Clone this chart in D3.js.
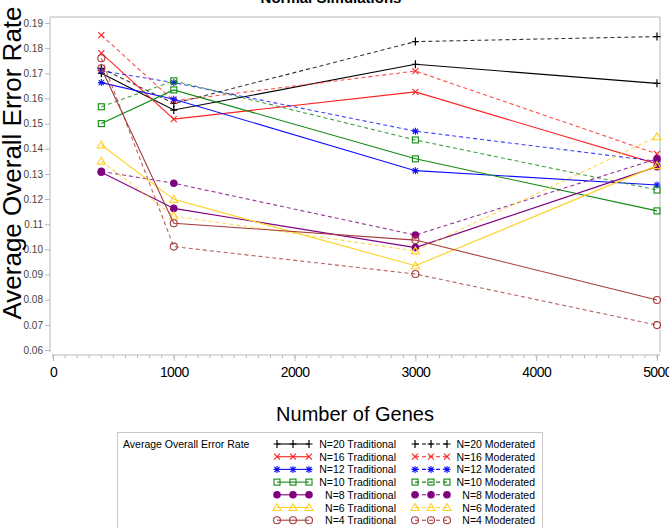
<!DOCTYPE html>
<html>
<head>
<meta charset="utf-8">
<script src="https://cdn.jsdelivr.net/npm/d3@7"></script>
<style>
  body { margin: 0; background: #fff; }
  svg { display: block; font-family: "Liberation Sans", Arial, sans-serif; }
</style>
</head>
<body>
<div id="chart"></div>
<script>
// Values
const genes = [400, 1000, 3000, 5000];

const n20Trad = [0.170, 0.1554, 0.1736, 0.166];
const n20Mod = [0.172, 0.158, 0.1826, 0.1846];
const n16Trad = [0.178, 0.1518, 0.1626, 0.134];
const n16Mod = [0.1852, 0.159, 0.1709, 0.138];
const n12Trad = [0.1663, 0.1597, 0.1313, 0.1256];
const n12Mod = [0.171, 0.1663, 0.147, 0.135];
const n10Trad = [0.150, 0.1634, 0.136, 0.1153];
const n10Mod = [0.1567, 0.167, 0.1435, 0.1236];
const n8Trad = [0.1307, 0.1163, 0.1007, 0.1329];
const n8Mod = [0.131, 0.1263, 0.1057, 0.136];
const n6Trad = [0.1415, 0.1199, 0.0935, 0.1333];
const n6Mod = [0.1351, 0.1133, 0.0994, 0.1448];
const n4Trad = [0.172, 0.1104, 0.1037, 0.0799];
const n4Mod = [0.176, 0.1011, 0.0902, 0.0699];

const seriesNames = ['N=20', 'N=16', 'N=12', 'N=10', 'N=8', 'N=6', 'N=4'];
const tradValues = [n20Trad, n16Trad, n12Trad, n10Trad, n8Trad, n6Trad, n4Trad];
const modValues = [n20Mod, n16Mod, n12Mod, n10Mod, n8Mod, n6Mod, n4Mod];
const colors = ['#000000', '#ff2020', '#1010ff', '#108a10', '#800080', '#ffd020', '#a83a3a'];
const shapes = ['plus', 'cross', 'star', 'square', 'dot', 'triangle', 'circle'];

const yTicks = d3.range(6, 20).map(d => d / 100);
const xTicks = [0, 1000, 2000, 3000, 4000, 5000];

const W = 669, H = 528;
const frame = { left: 50, right: 660, top: 17, bottom: 355 };

const svg = d3.select('#chart').append('svg')
  .attr('width', W)
  .attr('height', H);

const x = d3.scaleLinear().domain([0, 5000]).range([53, 657]);
const y = d3.scaleLinear().domain([0.06, 0.19]).range([350, 23]);

// Title, mostly cut off at the top
svg.append('text')
  .attr('x', 331)
  .attr('y', 3)
  .attr('text-anchor', 'middle')
  .style('font-size', '15px')
  .style('font-weight', 'bold')
  .text('Normal Simulations');

// frame
svg.append('path')
  .attr('d', `M${frame.left},${frame.bottom - 3}V${frame.top}H${frame.right}V${frame.bottom - 3}`)
  .attr('fill', 'none')
  .attr('stroke', '#b8b8b8');
svg.append('line')
  .attr('x1', 52).attr('x2', frame.right)
  .attr('y1', frame.bottom).attr('y2', frame.bottom)
  .attr('stroke', '#b8b8b8');

// y axis
const yAxis = svg.append('g')
  .attr('transform', `translate(${frame.left},0)`)
  .call(d3.axisLeft(y).tickValues(yTicks).tickFormat(d3.format('.2f')).tickSize(5).tickPadding(2));
yAxis.select('.domain').remove();
yAxis.selectAll('line').attr('stroke', '#b8b8b8');
yAxis.selectAll('text')
  .style('font-size', '10px')
  .style('font-family', '"Liberation Sans", Arial, sans-serif')
  .attr('fill', '#444');

// x axis minor ticks
svg.append('g')
  .selectAll('line')
  .data(d3.range(0, 5001, 100))
  .enter().append('line')
  .attr('x1', d => x(d)).attr('x2', d => x(d))
  .attr('y1', frame.bottom).attr('y2', frame.bottom + 3)
  .attr('stroke', '#b8b8b8');

const xAxis = svg.append('g')
  .attr('transform', `translate(0,${frame.bottom})`)
  .call(d3.axisBottom(x).tickValues(xTicks).tickFormat(d3.format('d')).tickSize(6).tickPadding(6));
xAxis.select('.domain').remove();
xAxis.selectAll('line').attr('stroke', '#b8b8b8');
xAxis.selectAll('text')
  .style('font-size', '14px')
  .style('letter-spacing', '-0.6px')
  .style('font-family', '"Liberation Sans", Arial, sans-serif')
  .attr('fill', '#000');

// axis titles
svg.append('text')
  .attr('x', (53 + 657) / 2)
  .attr('y', 421)
  .attr('text-anchor', 'middle')
  .style('font-size', '20px')
  .text('Number of Genes');

svg.append('text')
  .attr('transform', `translate(21,163) rotate(-90)`)
  .attr('text-anchor', 'middle')
  .style('font-size', '26px')
  .text('Average Overall Error Rate');

// markers
const drawMarker = (g, shape, color, cx, cy) => {
  const m = g.append('g').attr('transform', `translate(${cx},${cy})`);
  if (shape === 'plus') {
    m.append('path').attr('d', 'M-3.5,0H3.5M0,-4V4').attr('stroke', color).attr('stroke-width', 1.2);
  } else if (shape === 'cross') {
    m.append('path').attr('d', 'M-3,-3L3,3M-3,3L3,-3').attr('stroke', color).attr('stroke-width', 1.1);
  } else if (shape === 'star') {
    m.append('path').attr('d', 'M-3.5,0H3.5M0,-3.5V3.5M-2.6,-2.6L2.6,2.6M-2.6,2.6L2.6,-2.6').attr('stroke', color).attr('stroke-width', 1.1);
  } else if (shape === 'square') {
    m.append('rect').attr('x', -3).attr('y', -3).attr('width', 6).attr('height', 6)
      .attr('fill', 'none').attr('stroke', color).attr('stroke-width', 1.1);
  } else if (shape === 'dot') {
    m.append('circle').attr('r', 3.8).attr('fill', color);
  } else if (shape === 'triangle') {
    m.append('path').attr('d', 'M0,-4L4,3L-4,3Z').attr('fill', 'none').attr('stroke', color).attr('stroke-width', 1.1);
  } else if (shape === 'circle') {
    m.append('circle').attr('r', 3.5).attr('fill', 'none').attr('stroke', color).attr('stroke-width', 1.1);
  }
};

const line = d3.line()
  .x((d, i) => x(genes[i]))
  .y(d => y(d));

const plot = svg.append('g');
seriesNames.forEach((name, i) => {
  [[tradValues[i], null], [modValues[i], '4,3']].forEach(([vals, dash]) => {
    plot.append('path')
      .datum(vals)
      .attr('d', line)
      .attr('fill', 'none')
      .attr('stroke', colors[i])
      .attr('stroke-width', 1.1)
      .attr('stroke-opacity', dash ? 0.8 : 1)
      .attr('stroke-dasharray', dash);
    vals.forEach((v, k) => drawMarker(plot, shapes[i], colors[i], x(genes[k]), y(v)));
  });
});

// legend
const legend = svg.append('g');
legend.append('rect')
  .attr('x', 117.5).attr('y', 432.5)
  .attr('width', 425).attr('height', 110)
  .attr('fill', 'none')
  .attr('stroke', '#c8c8c8');
legend.append('text')
  .attr('x', 123).attr('y', 448)
  .style('font-size', '10.5px')
  .text('Average Overall Error Rate');

const rowY = i => 444 + i * 12.7;
const legendCols = [
  { x0: 277, textEnd: 396, label: 'Traditional', dash: null },
  { x0: 415, textEnd: 535, label: 'Moderated', dash: '4,3' }
];
seriesNames.forEach((name, i) => {
  legendCols.forEach(col => {
    const yy = rowY(i);
    legend.append('line')
      .attr('x1', col.x0).attr('x2', col.x0 + 32)
      .attr('y1', yy).attr('y2', yy)
      .attr('stroke', colors[i])
      .attr('stroke-width', 1.1)
      .attr('stroke-dasharray', col.dash);
    [0, 16, 32].forEach(dx => drawMarker(legend, shapes[i], colors[i], col.x0 + dx, yy));
    legend.append('text')
      .attr('x', col.textEnd).attr('y', yy + 4)
      .attr('text-anchor', 'end')
      .style('font-size', '10.5px')
      .text(`${name} ${col.label}`);
  });
});
</script>
</body>
</html>
